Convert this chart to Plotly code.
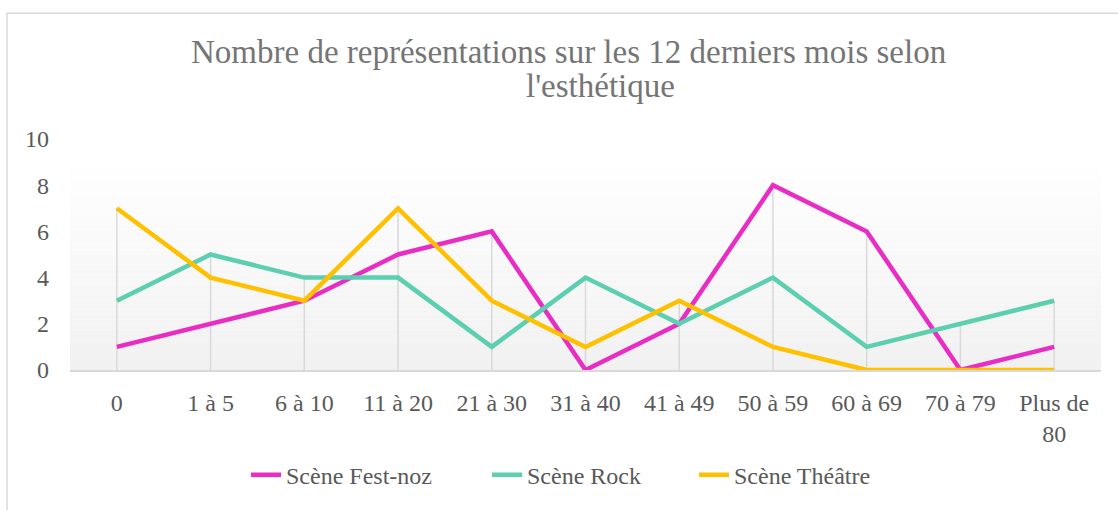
import plotly.graph_objects as go

categories = ["0", "1 à 5", "6 à 10", "11 à 20", "21 à 30", "31 à 40", "41 à 49",
              "50 à 59", "60 à 69", "70 à 79", "Plus de<br>80"]
fest_noz = [1, 2, 3, 5, 6, 0, 2, 8, 6, 0, 1]
rock = [3, 5, 4, 4, 1, 4, 2, 4, 1, 2, 3]
theatre = [7, 4, 3, 7, 3, 1, 3, 1, 0, 0, 0]
series_names = ["Scène Fest-noz", "Scène Rock", "Scène Théâtre"]
series_colors = ["#E92DC4", "#5BCFAF", "#FFC000"]
legend_widths = [196, 162, 150]
title_line1 = "Nombre de représentations sur les 12 derniers mois selon"
title_line2 = "l'esthétique"

W, H = 1118, 510
L, R, T, B = 70, 17, 139, 136
pw, ph = W - L - R, H - T - B


def px_x(p):
    return (p - L) / pw


def px_y(p):
    return (H - B - p) / ph


FONT = "Liberation Serif, Times New Roman, serif"

fig = go.Figure()

x_idx = list(range(len(categories)))

# gradient plot-area background
shapes = []
nb = 40
g_top = 8.7
for i in range(nb):
    y0 = g_top * i / nb
    y1 = g_top * (i + 1) / nb
    t = i / (nb - 1)
    c = int(round(241 + (254 - 241) * t))
    shapes.append(dict(type="rect", xref="paper", yref="y", x0=0, x1=1, y0=y0, y1=y1,
                       fillcolor=f"rgb({c},{c},{c})", line=dict(width=0), layer="below"))

# drop lines
for i, vals in enumerate(zip(fest_noz, rock, theatre)):
    shapes.append(dict(type="line", xref="x", yref="y", x0=i, x1=i, y0=0, y1=max(vals),
                       line=dict(color="#D9D9D9", width=1.5), layer="below"))

# chart border
shapes.append(dict(type="rect", xref="paper", yref="paper",
                   x0=px_x(7), x1=px_x(1130), y0=px_y(525), y1=px_y(11),
                   line=dict(color="#D9D9D9", width=1.5), fillcolor="rgba(0,0,0,0)",
                   layer="below"))

for name, vals, col, lw in zip(series_names, [fest_noz, rock, theatre], series_colors,
                               legend_widths):
    fig.add_trace(go.Scatter(x=x_idx, y=vals, name=name, mode="lines",
                             line=dict(color=col, width=4.5), cliponaxis=False,
                             legendwidth=lw))

fig.update_layout(
    width=W, height=H,
    margin=dict(l=L, r=R, t=T, b=B),
    paper_bgcolor="white", plot_bgcolor="rgba(0,0,0,0)",
    font=dict(family=FONT, size=24, color="#595959"),
    showlegend=True,
    legend=dict(orientation="h", x=px_x(246), xanchor="left", y=px_y(481),
                yanchor="middle", font=dict(size=24, color="#595959"),
                bgcolor="rgba(0,0,0,0)"),
    shapes=shapes,
    annotations=[
        dict(text=title_line1, xref="paper", yref="paper", x=px_x(568), y=px_y(50),
             xanchor="center", yanchor="middle", showarrow=False,
             font=dict(family=FONT, size=33, color="#757575")),
        dict(text=title_line2, xref="paper", yref="paper", x=px_x(600), y=px_y(85),
             xanchor="center", yanchor="middle", showarrow=False,
             font=dict(family=FONT, size=33, color="#757575")),
    ],
)

fig.update_xaxes(range=[-0.5, len(categories) - 0.5], tickmode="array", tickvals=x_idx,
                 ticktext=categories, showgrid=False, zeroline=False,
                 showline=True, linecolor="#D9D9D9", linewidth=1.5,
                 ticks="outside", ticklen=10, tickcolor="rgba(0,0,0,0)",
                 tickfont=dict(family=FONT, size=24, color="#595959"))
fig.update_yaxes(range=[0, 10], tickvals=[0, 2, 4, 6, 8, 10], showgrid=False,
                 zeroline=False, showline=False, ticklabelstandoff=20,
                 tickfont=dict(family=FONT, size=24, color="#595959"))

fig.write_html("out.html", config={"displayModeBar": False},
               post_script="document.body.style.margin='0px';document.body.style.overflow='hidden';")
